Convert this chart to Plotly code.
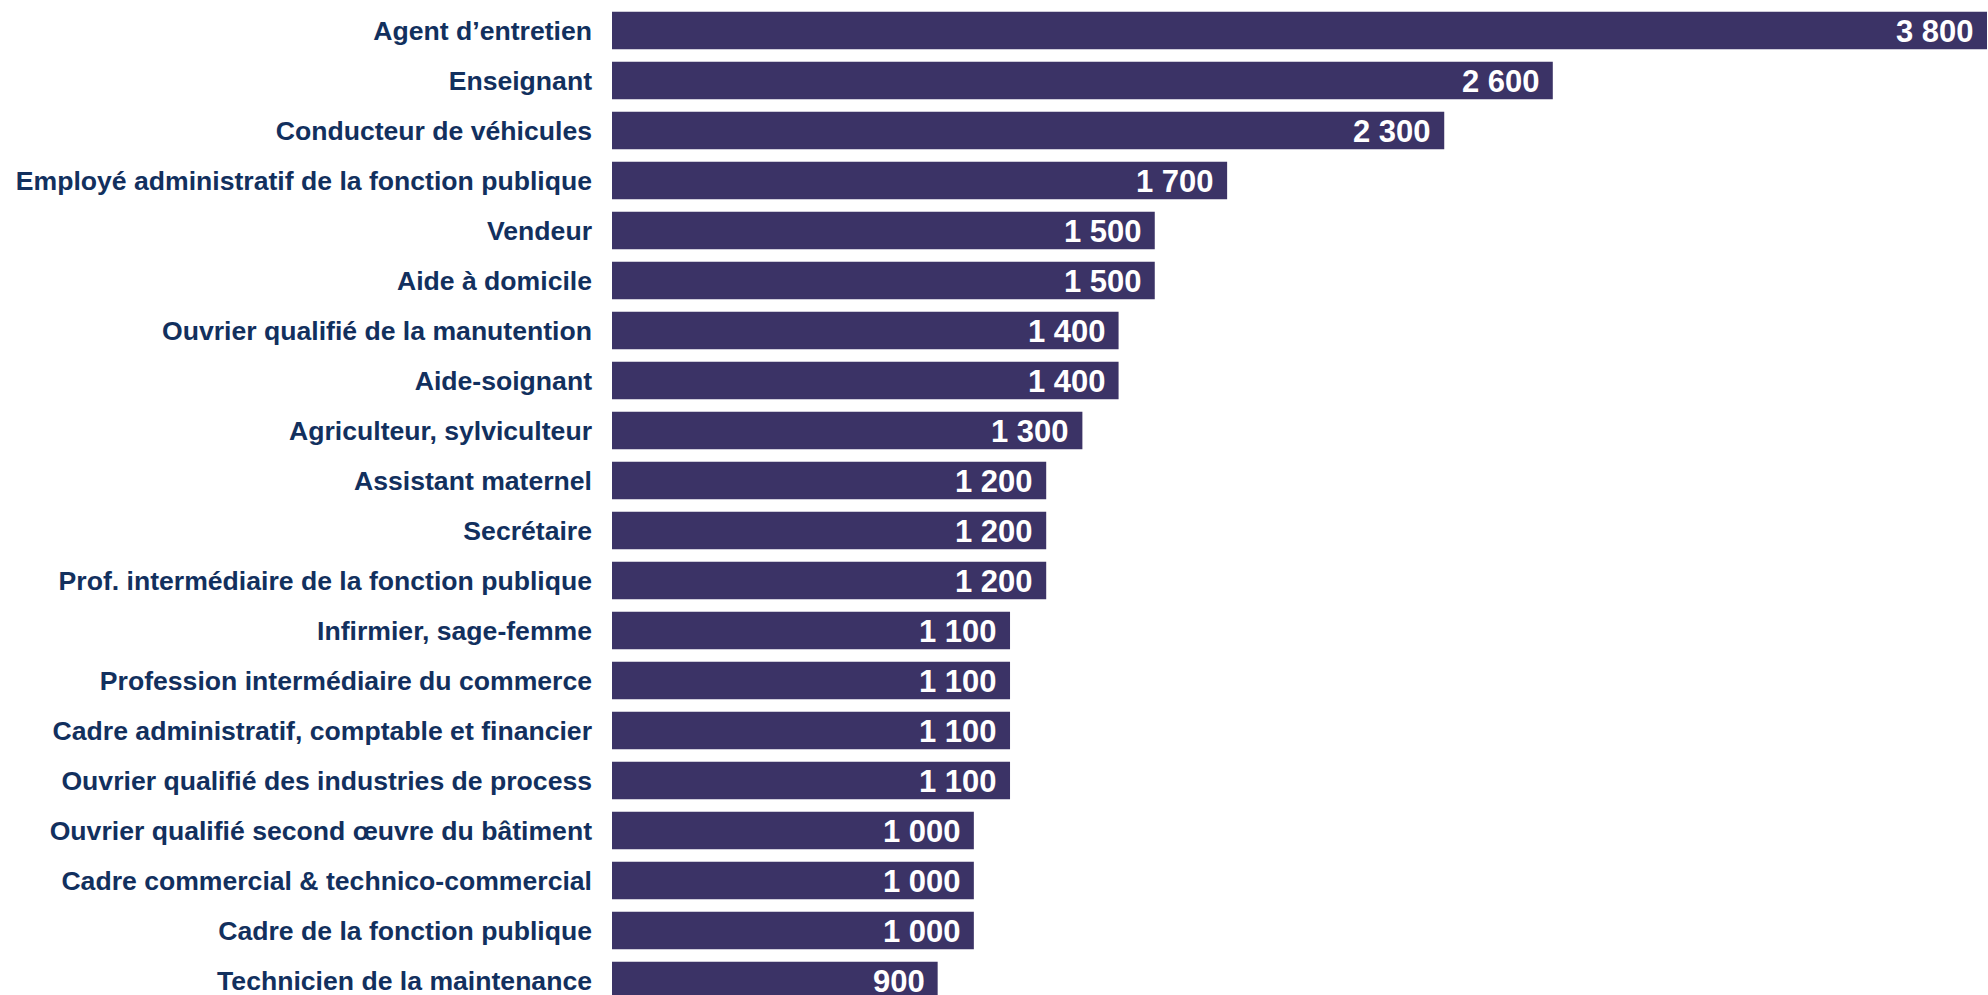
import plotly.graph_objects as go

categories = [
    "Agent d’entretien",
    "Enseignant",
    "Conducteur de véhicules",
    "Employé administratif de la fonction publique",
    "Vendeur",
    "Aide à domicile",
    "Ouvrier qualifié de la manutention",
    "Aide-soignant",
    "Agriculteur, sylviculteur",
    "Assistant maternel",
    "Secrétaire",
    "Prof. intermédiaire de la fonction publique",
    "Infirmier, sage-femme",
    "Profession intermédiaire du commerce",
    "Cadre administratif, comptable et financier",
    "Ouvrier qualifié des industries de process",
    "Ouvrier qualifié second œuvre du bâtiment",
    "Cadre commercial & technico-commercial",
    "Cadre de la fonction publique",
    "Technicien de la maintenance",
]
values = [3800, 2600, 2300, 1700, 1500, 1500, 1400, 1400, 1300, 1200,
          1200, 1200, 1100, 1100, 1100, 1100, 1000, 1000, 1000, 900]

def fmt(v):
    return f"{v:,}".replace(",", " ")

labels = [fmt(v) for v in values]

BAR = "#3B3366"
TXT = "#12305E"

fig = go.Figure(go.Bar(
    x=values,
    y=categories,
    orientation="h",
    marker=dict(color=BAR, line=dict(width=0)),
    width=0.752,
    hoverinfo="skip",
))

for c, v, t in zip(categories, values, labels):
    fig.add_annotation(
        x=v, y=c, xref="x", yref="y",
        text=t, showarrow=False,
        xanchor="right", yanchor="middle", xshift=-11, yshift=-1,
        font=dict(family="Liberation Sans", size=31, color="white", weight="bold"),
    )

fig.update_layout(
    width=1988, height=995,
    margin=dict(l=612, r=1, t=0, b=0),
    paper_bgcolor="white", plot_bgcolor="white",
    showlegend=False,
    bargap=0.25,
    xaxis=dict(range=[0, 3800], visible=False, fixedrange=True),
    yaxis=dict(
        type="category",
        categoryorder="array",
        categoryarray=categories,
        range=[19.29, -0.61],
        showgrid=False, zeroline=False, showline=False,
        ticks="", ticklabelstandoff=19,
        tickfont=dict(family="Liberation Sans", size=26.6, color=TXT, weight="bold"),
    ),
)

fig.write_html(
    "out.html",
    config={"displayModeBar": False},
    post_script="document.body.style.margin='0';document.body.style.overflow='hidden';",
)
